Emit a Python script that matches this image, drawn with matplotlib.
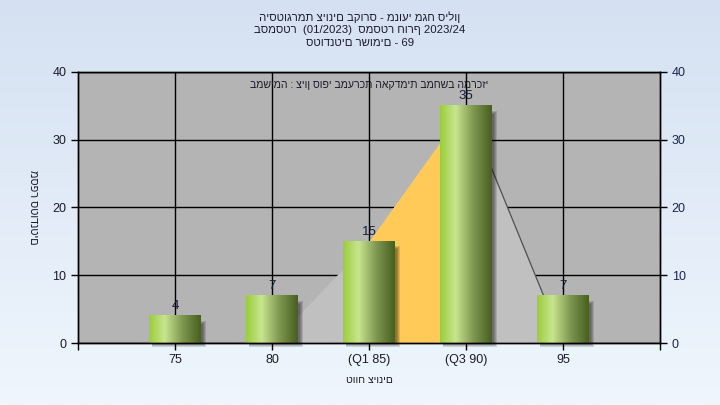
import numpy as np
import matplotlib
matplotlib.use("Agg")
import matplotlib.pyplot as plt
from matplotlib.patches import Rectangle

# ---------------- data ----------------
categories = ['75', '80', '(Q1 85)', '(Q3 90)', '95']
counts = [4, 7, 15, 35, 7]
curve_values = [0, 0, 15, 35, 0]
q1_index = 2
q3_index = 3
yticks = [0, 10, 20, 30, 40]
title_lines = [
    'היסטוגרמת ציונים בקורס - מנועי מגח סילון',
    'בסמסטר  (01/2023)  סמסטר חורף 2023/24',
    'סטודנטים רשומים - 69',
]
subtitle = 'במשימה : ציון סופי במערכת האקדמית במחשב המרכזי'
ylabel = 'מספר סטודנטים'
xlabel = 'טווח ציונים'

plt.rcParams['font.family'] = ['Liberation Sans', 'DejaVu Sans']
TXT = '#1b1b2b'

W, H = 720, 405
fig = plt.figure(figsize=(W / 100, H / 100), dpi=100)

# background gradient
bg = fig.add_axes([0, 0, 1, 1], zorder=-10)
t = np.linspace(0, 1, 256)[:, None, None]
c_top = np.array([213, 225, 242]) / 255
c_bot = np.array([239, 246, 253]) / 255
img = c_top * (1 - t) + c_bot * t
bg.imshow(img, aspect='auto', extent=[0, 1, 0, 1])
bg.axis('off')

L, R, T, B = 78, 660, 72, 343
ax = fig.add_axes([L / W, 1 - B / H, (R - L) / W, (B - T) / H])
ax.set_facecolor('#B4B4B4')
n = len(categories)
x = np.arange(n)
ax.set_xlim(-1, n)
ax.set_ylim(0, 40)
px_x = (n + 1) / (R - L)
px_y = 40 / (B - T)

ax.set_axisbelow(True)
ax.grid(True, color='black', lw=1)
for s in ax.spines.values():
    s.set_zorder(6)
    s.set_linewidth(1)

# distribution polygon
cv = np.array(curve_values, dtype=float)
ax.fill_between(x, 0, cv, color='#C0C0C0', lw=0, zorder=1)
mask = (x >= q1_index) & (x <= q3_index)
ax.fill_between(x, 0, cv, where=mask, color='#FFCA58', lw=0, zorder=1.1)
ax.plot(x[q3_index:], cv[q3_index:], color='#505050', lw=0.9, zorder=1.2)

# bars with gradient and shadow
w = 0.53
stops = np.array([0.0, 0.3, 0.65, 1.0])
cols = np.array([[155, 205, 60], [200, 229, 142], [125, 150, 80], [72, 95, 30]]) / 255
gx = np.linspace(0, 1, 200)
grad = np.stack([np.interp(gx, stops, cols[:, k]) for k in range(3)], axis=-1)[None, :, :]
for i, v in zip(x, counts):
    for k in range(4):
        ax.add_patch(Rectangle((i - w / 2 + 3 * px_x, -(1 + k) * px_y),
                               w + (k - 1) * px_x, v - (8 - k) * px_y + (1 + k) * px_y,
                               color='black', alpha=0.13, lw=0, zorder=2, clip_on=False))
    ax.imshow(grad, aspect='auto', extent=[i - w / 2, i + w / 2, 0, v], zorder=3,
              interpolation='bilinear')
    ax.annotate(str(v), (i, v), xytext=(0, 7), textcoords='offset points',
                ha='center', va='center', fontsize=9.5, color='#141c38', zorder=7)

ax.set_xlim(-1, n)
ax.set_ylim(0, 40)
ax.set_xticks(x, categories)
ax.set_xticks([-1, n], minor=True)
ax.set_yticks(yticks)
ax.tick_params(which='both', direction='out', length=5, width=1, color='black',
               labelsize=9, labelcolor=TXT)
ax.tick_params(axis='x', pad=3)

ax2 = ax.twinx()
ax2.set_ylim(0, 40)
ax2.set_yticks(yticks)
ax2.tick_params(direction='out', length=5, width=1, color='black',
                labelsize=9, labelcolor='#1a2550')
for s in ax2.spines.values():
    s.set_linewidth(1)

ax.text(0.5, (B - 85) / (B - T), subtitle, transform=ax.transAxes, ha='center',
        va='center', fontsize=7.6, color=TXT, zorder=8)

for yy, line in zip([17, 30, 43], title_lines):
    fig.text(0.5, 1 - yy / H, line, ha='center', va='center', fontsize=8.2, color=TXT)

fig.text(33 / W, 1 - 207 / H, ylabel, rotation=270, ha='center', va='center',
         fontsize=7.8, color=TXT)
fig.text(369 / W, 1 - 380 / H, xlabel, ha='center', va='center', fontsize=7.5, color=TXT)

fig.savefig('out.png', dpi=100)
